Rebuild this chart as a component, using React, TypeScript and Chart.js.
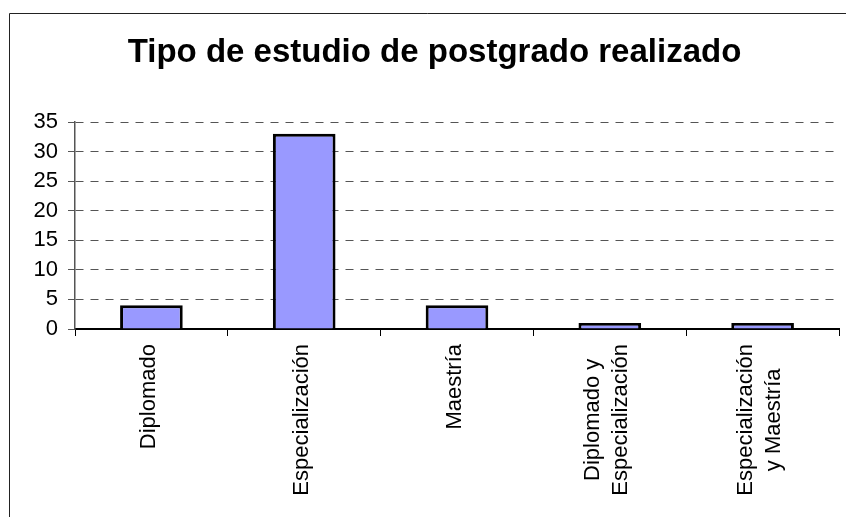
import React, { useEffect, useRef } from "react";
import { Chart, registerables } from "chart.js";

Chart.register(...registerables);

const chartTitle = "Tipo de estudio de postgrado realizado";
const categories: string[][] = [
  ["Diplomado"],
  ["Especialización"],
  ["Maestría"],
  ["Diplomado y", "Especialización"],
  ["Especialización", "y Maestría"],
];
const values: number[] = [4, 33, 4, 1, 1];
const yMin = 0;
const yMax = 35;
const yStep = 5;

const FONT = "'Liberation Sans', Arial, sans-serif";

const frameAndTitle = {
  id: "frameAndTitle",
  afterDraw(chart: any) {
    const ctx = chart.ctx as CanvasRenderingContext2D;
    ctx.save();
    // outer frame (left and top edges visible)
    ctx.strokeStyle = "#222";
    ctx.lineWidth = 1;
    ctx.beginPath();
    ctx.moveTo(9.5, chart.height);
    ctx.lineTo(9.5, 13.5);
    ctx.lineTo(chart.width, 13.5);
    ctx.stroke();
    // title
    ctx.fillStyle = "#000";
    ctx.font = `bold 33px ${FONT}`;
    ctx.textAlign = "center";
    ctx.textBaseline = "alphabetic";
    ctx.fillText(chartTitle, 434.5, 62);
    // x labels (rotated, centered lines)
    const xs = chart.scales.x;
    ctx.font = `22px ${FONT}`;
    ctx.textAlign = "center";
    ctx.textBaseline = "middle";
    const lh = 28;
    categories.forEach((lines, i) => {
      const px = xs.getPixelForTick(i) - 2.5;
      const maxW = Math.max(...lines.map((l) => ctx.measureText(l).width));
      const cy = xs.top + 15 + maxW / 2;
      const n = lines.length;
      lines.forEach((line, j) => {
        const x = px + (j - (n - 1) / 2) * lh;
        ctx.save();
        ctx.translate(x, cy);
        ctx.rotate(-Math.PI / 2);
        ctx.fillText(line, 0, 0);
        ctx.restore();
      });
    });
    ctx.restore();
  },
};

export default function App() {
  const ref = useRef<HTMLCanvasElement | null>(null);
  useEffect(() => {
    if (!ref.current) return;
    const chart = new Chart(ref.current, {
      type: "bar",
      data: {
        labels: categories.map((c) => c.join(" ")),
        datasets: [
          {
            data: values,
            backgroundColor: "#9999FF",
            borderColor: "#000",
            borderWidth: 3,
            categoryPercentage: 1,
            barPercentage: 0.41,
          },
        ],
      },
      options: {
        responsive: false,
        animation: false,
        devicePixelRatio: 1,
        layout: { padding: { left: 10, right: 7, top: 122, bottom: 0 } },
        plugins: {
          legend: { display: false },
          title: { display: false },
          tooltip: { enabled: false },
        },
        scales: {
          x: {
            offset: true,
            grid: {
              offset: true,
              drawOnChartArea: false,
              drawTicks: true,
              tickLength: 7,
              color: "#000",
              tickColor: "#000",
              lineWidth: 1,
            },
            border: { display: true, color: "#000", width: 2 },
            ticks: { display: false },
            afterFit: (s: any) => {
              s.height = 188;
            },
          },
          y: {
            min: yMin,
            max: yMax,
            ticks: {
              stepSize: yStep,
              color: "#000",
              font: { family: FONT, size: 22 },
              padding: 10,
            },
            grid: {
              color: (c: any) => (c.tick && c.tick.value === 0 ? "rgba(0,0,0,0)" : "#555"),
              tickColor: "#555",
              tickLength: 7,
              tickBorderDash: [],
              lineWidth: 1,
            },
            border: { display: true, color: "#555", width: 1.5, dash: [8, 7] },
            afterFit: (s: any) => {
              s.width = 65;
            },
          },
        },
      },
      plugins: [frameAndTitle],
    });
    return () => chart.destroy();
  }, []);
  return (
    <div style={{ position: "absolute", left: 0, top: 0, width: 846, height: 517, background: "#fff" }}>
      <canvas ref={ref} width={846} height={517} style={{ display: "block" }} />
    </div>
  );
}
